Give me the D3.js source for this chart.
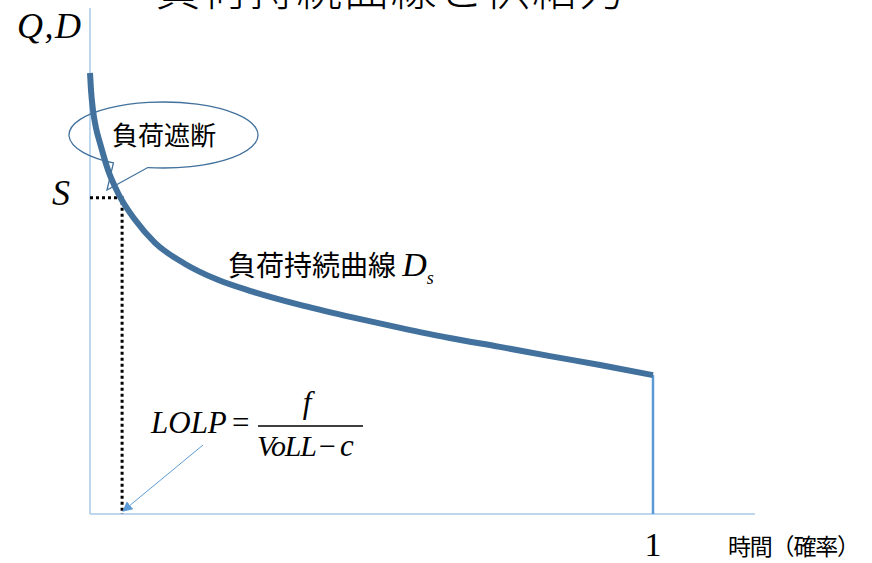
<!DOCTYPE html>
<html>
<head>
<meta charset="utf-8">
<script src="https://cdn.jsdelivr.net/npm/d3@7"></script>
<style>
  body { margin: 0; background: #fff; }
  svg { display: block; }
  .jp { font-family: "Noto Sans CJK JP", "Noto Sans", sans-serif; fill: #000; }
  .math { font-family: "Liberation Serif", "DejaVu Serif", serif; font-style: italic; fill: #000; }
</style>
</head>
<body>
<div id="container"></div>
<script>
// load duration curve: share of time (0..1) vs load (% of peak)
const durationShare = [0, 0.0018, 0.0053, 0.0107, 0.0178, 0.032, 0.0497, 0.08, 0.1155, 0.169, 0.227, 0.284, 0.373, 0.462, 0.551, 0.639, 0.728, 0.817, 0.906, 1]
const loadValues = [100, 96.1, 91.6, 87.5, 84.1, 78.0, 72.8, 66.7, 61.5, 56.7, 53.1, 50.6, 47.4, 44.7, 42.2, 39.9, 37.9, 35.8, 33.8, 31.5]
const supplyS = 71.7      // capacity S
const lolpShare = 0.057   // time share where load > S
const titleText = "負荷持続曲線と供給力"

const width = 872, height = 563
const x = d3.scaleLinear().domain([0, 1]).range([90, 653])
const y = d3.scaleLinear().domain([0, 100]).range([514, 73])

const svg = d3.select("#container").append("svg")
    .attr("width", width)
    .attr("height", height)

svg.append("defs").append("marker")
    .attr("id", "arrow")
    .attr("viewBox", "0 0 10 10")
    .attr("refX", 9).attr("refY", 5)
    .attr("markerWidth", 10).attr("markerHeight", 10)
    .attr("markerUnits", "userSpaceOnUse")
    .attr("orient", "auto")
  .append("path")
    .attr("d", "M0,0L10,5L0,10z")
    .attr("fill", "#5b9bd5")

// title (clipped at top in the original)
svg.append("text").attr("class", "jp")
    .attr("x", 155).attr("y", 5)
    .attr("font-size", 46)
    .attr("font-weight", 300)
    .attr("textLength", 470)
    .text(titleText)

// axes
svg.append("line")
    .attr("x1", x(0)).attr("x2", x(0))
    .attr("y1", 8).attr("y2", y(0))
    .attr("stroke", "#a9c8e8").attr("stroke-width", 1.5)
svg.append("line")
    .attr("x1", x(0)).attr("x2", 755)
    .attr("y1", y(0)).attr("y2", y(0))
    .attr("stroke", "#a9c8e8").attr("stroke-width", 1.5)

// dotted S lines
svg.append("path")
    .attr("d", `M${x(0)},${y(supplyS)}H${x(lolpShare)}V${y(0)}`)
    .attr("fill", "none")
    .attr("stroke", "#000")
    .attr("stroke-width", 3)
    .attr("stroke-dasharray", "3,3")

// callout bubble
const cx = 163.5, cy = 135, rx = 94.5, ry = 33
const onEllipse = a => [cx + rx * Math.cos(a * Math.PI / 180), cy + ry * Math.sin(a * Math.PI / 180)]
const p0 = onEllipse(122), p1 = onEllipse(99.6)
const callout = svg.append("g")
callout.append("path")
    .attr("d", `M${p0} A${rx},${ry} 0 1 1 ${p1} L107,190 Z`)
    .attr("fill", "none")
    .attr("stroke", "#41719c")
    .attr("stroke-width", 1.3)

// drop at x = 1
svg.append("line")
    .attr("x1", x(1)).attr("x2", x(1))
    .attr("y1", y(loadValues[loadValues.length - 1])).attr("y2", y(0))
    .attr("stroke", "#5b9bd5").attr("stroke-width", 2.5)

// duration curve
const pts = durationShare.map((d, i) => [d, loadValues[i]])
svg.append("path")
    .datum(pts)
    .attr("fill", "none")
    .attr("stroke", "#41719c")
    .attr("stroke-width", 6)
    .attr("d", d3.line().x(d => x(d[0])).y(d => y(d[1])).curve(d3.curveMonotoneX))

callout.append("text").attr("class", "jp")
    .attr("x", 164).attr("y", 145)
    .attr("text-anchor", "middle")
    .attr("font-size", 26)
    .attr("font-weight", 400)
    .text("負荷遮断")

// labels
svg.append("text").attr("class", "math")
    .attr("x", 17).attr("y", 38).attr("font-size", 36)
    .attr("textLength", 64)
    .text("Q,D")
svg.append("text").attr("class", "math")
    .attr("x", 52).attr("y", 205).attr("font-size", 36)
    .text("S")

const ds = svg.append("text").attr("x", 228).attr("y", 276)
ds.append("tspan").attr("class", "jp").attr("font-size", 28).text("負荷持続曲線 ")
ds.append("tspan").attr("class", "math").attr("font-size", 34).text("D")
ds.append("tspan").attr("class", "math").attr("font-size", 18).attr("dy", 8).text("s")

// LOLP formula
svg.append("text").attr("class", "math")
    .attr("x", 151).attr("y", 433).attr("font-size", 31)
    .text("LOLP")
svg.append("text")
    .attr("x", 232).attr("y", 433).attr("font-size", 31)
    .attr("font-family", "Liberation Serif, serif")
    .text("=")
svg.append("line")
    .attr("x1", 258).attr("x2", 363).attr("y1", 426).attr("y2", 426)
    .attr("stroke", "#000").attr("stroke-width", 1.4)
svg.append("text").attr("class", "math")
    .attr("x", 307).attr("y", 413).attr("font-size", 31)
    .attr("text-anchor", "middle")
    .text("f")
svg.append("text").attr("class", "math")
    .attr("x", 257).attr("y", 456).attr("font-size", 30)
    .attr("textLength", 60)
    .attr("lengthAdjust", "spacing")
    .text("VoLL")
svg.append("text")
    .attr("x", 319).attr("y", 456).attr("font-size", 30)
    .attr("font-family", "Liberation Serif, serif")
    .text("−")
svg.append("text").attr("class", "math")
    .attr("x", 340).attr("y", 456).attr("font-size", 31)
    .text("c")

svg.append("line")
    .attr("x1", 203).attr("y1", 445)
    .attr("x2", x(lolpShare) + 1).attr("y2", y(0) - 3)
    .attr("stroke", "#5b9bd5").attr("stroke-width", 1)
    .attr("marker-end", "url(#arrow)")

// x labels
svg.append("text")
    .attr("x", x(1)).attr("y", 556)
    .attr("text-anchor", "middle")
    .attr("font-family", "Liberation Serif, serif")
    .attr("font-size", 34)
    .text("1")
svg.append("text").attr("class", "jp")
    .attr("x", 728).attr("y", 555)
    .attr("font-size", 23)
    .attr("textLength", 132)
    .attr("lengthAdjust", "spacing")
    .text("時間（確率）")
</script>
</body>
</html>
